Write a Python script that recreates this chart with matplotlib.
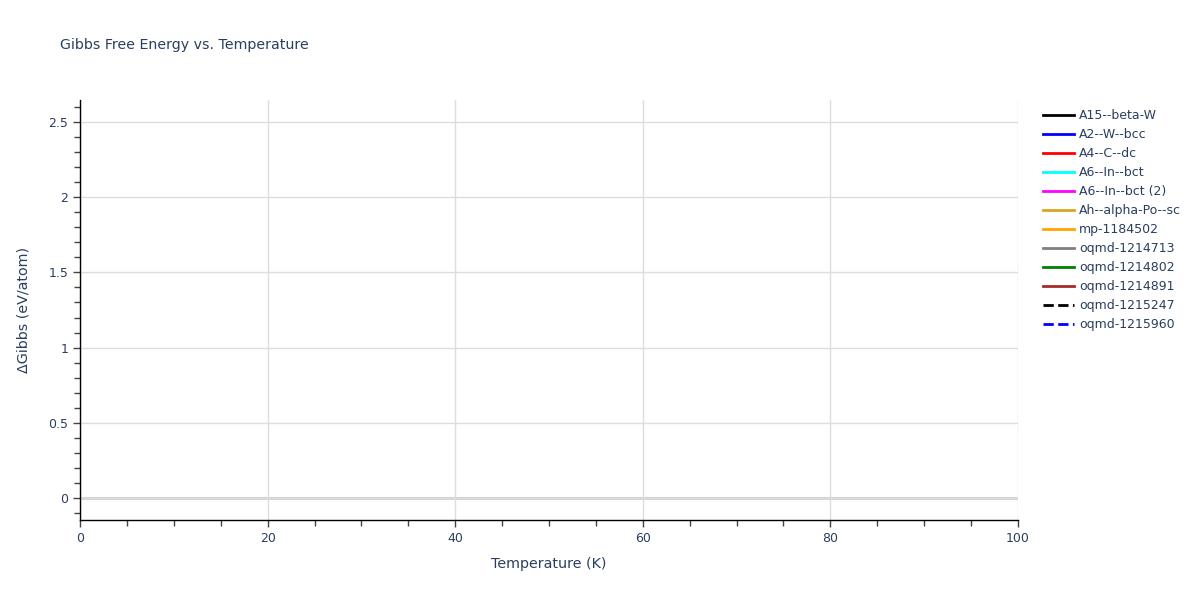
import matplotlib
matplotlib.use("Agg")
import matplotlib.pyplot as plt
from matplotlib.ticker import MultipleLocator

# series shown in the legend; none of them has points inside the visible range
series_names = ["A15--beta-W", "A2--W--bcc", "A4--C--dc", "A6--In--bct", "A6--In--bct (2)",
                "Ah--alpha-Po--sc", "mp-1184502", "oqmd-1214713", "oqmd-1214802",
                "oqmd-1214891", "oqmd-1215247", "oqmd-1215960"]
series_colors = ["black", "blue", "red", "cyan", "magenta", "goldenrod", "orange",
                 "gray", "green", "brown", "black", "blue"]
series_dash = ["-", "-", "-", "-", "-", "-", "-", "-", "-", "-", "--", "--"]
temperature = [[] for _ in series_names]
delta_gibbs = [[] for _ in series_names]

x_range = (0, 100)
y_range = (-0.146, 2.646)

txt = "#2a3f5f"
plt.rcParams['font.family'] = ['DejaVu Sans']

fig = plt.figure(figsize=(12, 6), dpi=100)
ax = fig.add_axes([80/1200, 80/600, 938/1200, 420/600])

for name, c, ls, xs, ys in zip(series_names, series_colors, series_dash, temperature, delta_gibbs):
    ax.plot(xs, ys, color=c, linestyle=ls, linewidth=2, label=name)

ax.set_xlim(*x_range)
ax.set_ylim(*y_range)
ax.xaxis.set_major_locator(MultipleLocator(20))
ax.xaxis.set_minor_locator(MultipleLocator(5))
ax.yaxis.set_major_locator(MultipleLocator(0.5))
ax.yaxis.set_minor_locator(MultipleLocator(0.1))
ax.yaxis.set_major_formatter(matplotlib.ticker.FuncFormatter(lambda v, p: f"{v:g}"))

ax.grid(True, which="major", color="#dddddd", linewidth=1)
ax.axhline(0, color="#cccccc", linewidth=2, zorder=1)
for s in ["top", "right"]:
    ax.spines[s].set_visible(False)
for s in ["left", "bottom"]:
    ax.spines[s].set_color("black")
    ax.spines[s].set_linewidth(1)

ax.tick_params(which="major", length=5, width=1, color="#444444", labelsize=9, labelcolor=txt)
ax.tick_params(which="minor", length=4, width=1, color="#444444")

ax.set_xlabel("Temperature (K)", fontsize=10.3, color=txt, labelpad=9)
ax.set_ylabel("ΔGibbs (eV/atom)", fontsize=10.3, color=txt, labelpad=13)
fig.text(60/1200, 1 - 45/600, "Gibbs Free Energy vs. Temperature", fontsize=10.2,
         color=txt, va="center", ha="left")

leg = fig.legend(loc="upper left", bbox_to_anchor=(1038/1200, 1 - 104/600), frameon=False,
                 fontsize=9, handlelength=2.5, handletextpad=0.4, labelspacing=0.48,
                 borderaxespad=0)
for t in leg.get_texts():
    t.set_color(txt)

fig.savefig("out.png", dpi=100)
